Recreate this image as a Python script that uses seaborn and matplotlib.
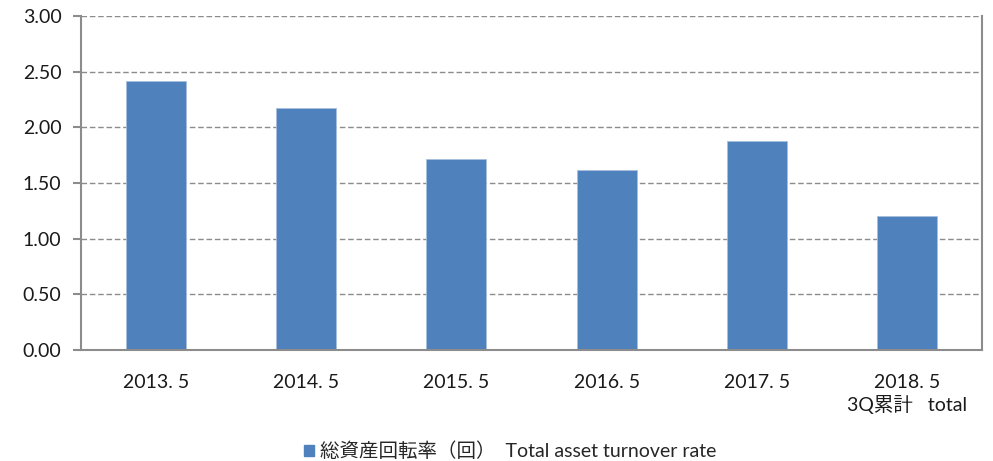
import matplotlib
matplotlib.use("Agg")
import matplotlib.pyplot as plt
import seaborn as sns
import pandas as pd
from matplotlib.patches import Patch

categories = ["2013. 5", "2014. 5", "2015. 5", "2016. 5", "2017. 5", "2018. 5\n3Q累計   total"]
values = [2.42, 2.17, 1.72, 1.62, 1.88, 1.20]
yticks = [0.0, 0.5, 1.0, 1.5, 2.0, 2.5, 3.0]
legend_label = "総資産回転率（回）  Total asset turnover rate"

sns.set_theme(style="white")
plt.rcParams['font.family'] = ['Lato', 'Noto Sans CJK JP', 'DejaVu Sans']

color = "#4F81BD"
grey = "#8C8C8C"
fs = 14

df = pd.DataFrame({"cat": categories, "val": values})

fig = plt.figure(figsize=(9.93, 4.61), dpi=100)
ax = fig.add_axes([81/993, 1 - 350/461, (982-81)/993, (350-16)/461])

sns.barplot(data=df, x="cat", y="val", color=color, width=0.4, ax=ax, saturation=1)
for p in ax.patches:
    p.set_edgecolor("#A7BFDE")
    p.set_linewidth(0.6)

ax.set_ylim(0, 3.0)
ax.set_xlim(-0.5, len(categories) - 0.5)
ax.set_yticks(yticks)
ax.set_yticklabels([f"{t:.2f}" for t in yticks], fontsize=fs, color="#1a1a1a")
ax.set_xticks(range(len(categories)))
ax.set_xticklabels(categories, fontsize=fs, color="#1a1a1a", linespacing=1.3)
ax.set_xlabel("")
ax.set_ylabel("")

for t in yticks[1:]:
    ax.axhline(t, color=grey, linestyle=(0, (4, 2)), linewidth=1.0, zorder=0)
ax.set_axisbelow(True)

for s in ["left", "bottom", "right"]:
    ax.spines[s].set_visible(True)
    ax.spines[s].set_color(grey)
    ax.spines[s].set_linewidth(1.5)
ax.spines["top"].set_visible(False)

ax.tick_params(axis="x", which="major", length=0, pad=17)
ax.set_xticks([i - 0.5 for i in range(len(categories) + 1)], minor=True)
ax.tick_params(axis="x", which="minor", length=6, width=1.5, color=grey, direction="out")
ax.tick_params(axis="y", which="major", length=6, width=1.5, color=grey, direction="out", pad=8, left=True)

handles = [Patch(facecolor=color, edgecolor=color, label=legend_label)]
fig.legend(handles=handles, loc="center", bbox_to_anchor=(510/993, 1 - 451/461),
           frameon=False, fontsize=fs, handlelength=0.55, handleheight=0.55, handletextpad=0.3)

fig.savefig("out.png", dpi=100)
